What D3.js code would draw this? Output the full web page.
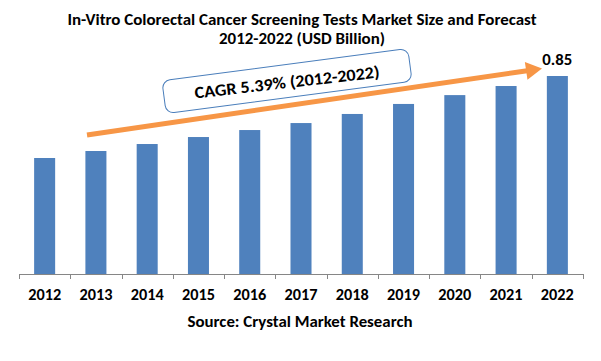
<!DOCTYPE html>
<html>
<head>
<meta charset="utf-8">
<script src="https://cdn.jsdelivr.net/npm/d3@7/dist/d3.min.js"></script>
<style>
  html, body { margin: 0; padding: 0; background: #fff; }
  svg { display: block; }
  text { font-family: Carlito, Calibri, Lato, "Open Sans", sans-serif; font-weight: bold; fill: #000; }
</style>
</head>
<body>
<svg id="chart" width="601" height="361"></svg>
<script>
// ---- data ----
const years = ["2012","2013","2014","2015","2016","2017","2018","2019","2020","2021","2022"];
const values = [0.498, 0.528, 0.558, 0.588, 0.618, 0.648, 0.687, 0.730, 0.768, 0.807, 0.85];
const titleLines = ["In-Vitro Colorectal Cancer Screening Tests Market Size and Forecast", "2012-2022 (USD Billion)"];
const cagrText = "CAGR 5.39% (2012-2022)";
const lastLabel = "0.85";
const sourceText = "Source: Crystal Market Research";

// ---- layout ----
const svg = d3.select("#chart");
const plot = { left: 19, right: 583, base: 274, top: 76 };
const barColor = "#4F81BD";
const arrowColor = "#F79646";

const x = d3.scaleBand().domain(years).range([plot.left, plot.right]).paddingInner(0.59).paddingOuter(0.295);
const y = d3.scaleLinear().domain([0, d3.max(values)]).range([plot.base, plot.top]);

function fit(sel, target) {
  sel.each(function() {
    const w = this.getComputedTextLength();
    if (Math.abs(w - target) > 1) {
      d3.select(this).attr("textLength", target).attr("lengthAdjust", "spacingAndGlyphs");
    }
  });
}

// title
const tW = [469, 166];
const tY = [25, 44];
titleLines.forEach((t, i) => {
  const s = svg.append("text").attr("x", 302).attr("y", tY[i]).attr("text-anchor", "middle")
    .attr("font-size", 16).text(t);
  fit(s, tW[i]);
});

// bars
svg.append("g").selectAll("rect").data(years).join("rect")
  .attr("x", d => x(d))
  .attr("width", x.bandwidth())
  .attr("y", (d, i) => y(values[i]))
  .attr("height", (d, i) => y(0) - y(values[i]))
  .attr("fill", barColor);

// axis
const axisG = svg.append("g").attr("transform", `translate(0,${plot.base})`)
  .call(d3.axisBottom(x).tickSize(0).tickPadding(0));
axisG.select(".domain").remove();
axisG.attr("font-family", null).attr("font-size", null);
axisG.selectAll("text")
  .attr("y", 26).attr("dy", 0)
  .attr("font-size", 15.5);
axisG.selectAll("text").each(function(){ fit(d3.select(this), 33); });

const axisColor = "#868686";
svg.append("line").attr("x1", plot.left).attr("x2", plot.right)
  .attr("y1", plot.base + 0.5).attr("y2", plot.base + 0.5)
  .attr("stroke", axisColor).attr("stroke-width", 1);
const edges = years.map(d => x(d) - x.step() * x.paddingInner() / 2).concat([plot.right]);
svg.append("g").selectAll("line").data(edges).join("line")
  .attr("x1", d => Math.round(d) + 0.5).attr("x2", d => Math.round(d) + 0.5)
  .attr("y1", plot.base).attr("y2", plot.base + 5)
  .attr("stroke", axisColor).attr("stroke-width", 1);

// last value label
const last = years[years.length - 1];
const lbl = svg.append("text").attr("x", x(last) + x.bandwidth() / 2).attr("y", y(values[values.length - 1]) - 11)
  .attr("text-anchor", "middle").attr("font-size", 15.5).text(lastLabel);
fit(lbl, 30);

// arrow
const a0 = [87, 135], a1 = [542, 68.5];
const ang = Math.atan2(a1[1] - a0[1], a1[0] - a0[0]);
const headLen = 16, headHalf = 9;
const bx = a1[0] - headLen * Math.cos(ang), by = a1[1] - headLen * Math.sin(ang);
svg.append("line").attr("x1", a0[0]).attr("y1", a0[1]).attr("x2", bx + Math.cos(ang)).attr("y2", by + Math.sin(ang))
  .attr("stroke", arrowColor).attr("stroke-width", 5);
const px = -Math.sin(ang), py = Math.cos(ang);
svg.append("path")
  .attr("d", `M${a1[0]},${a1[1]} L${bx + px * headHalf},${by + py * headHalf} L${bx - px * headHalf},${by - py * headHalf} Z`)
  .attr("fill", arrowColor);

// CAGR box
const box = svg.append("g").attr("transform", "translate(287,81) rotate(-7.5)");
box.append("rect").attr("x", -124).attr("y", -16.5).attr("width", 248).attr("height", 33)
  .attr("rx", 8).attr("ry", 8).attr("fill", "#fff").attr("stroke", "#4A7EBB").attr("stroke-width", 1);
const ct = svg.append("g").attr("transform", "translate(287,82) rotate(-6.5)")
  .append("text").attr("x", 0).attr("y", 6).attr("text-anchor", "middle").attr("font-size", 17).text(cagrText);
fit(ct, 186);

// source
const src = svg.append("text").attr("x", 300).attr("y", 327).attr("text-anchor", "middle")
  .attr("font-size", 15.5).text(sourceText);
fit(src, 225);
</script>
</body>
</html>
